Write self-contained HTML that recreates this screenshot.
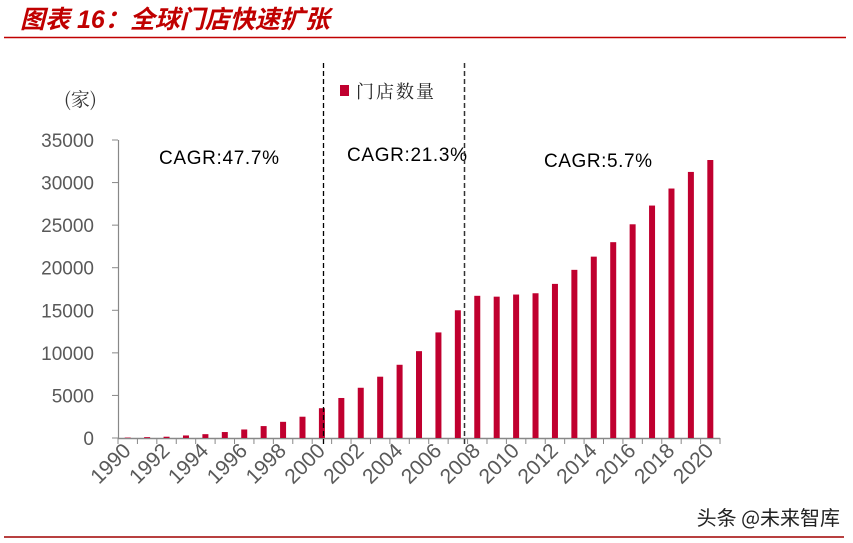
<!DOCTYPE html>
<html><head><meta charset="utf-8"><style>
html,body{margin:0;padding:0;background:#fff;}
svg{display:block;}
</style></head><body>
<svg id="s" width="853" height="543" viewBox="0 0 853 543" xmlns="http://www.w3.org/2000/svg" font-family="'Liberation Sans','Noto Sans CJK SC',sans-serif">
<text x="20" y="28" font-size="25" font-weight="bold" font-style="italic" fill="#c00000" font-family="'Liberation Sans','Noto Sans CJK SC',sans-serif">图表 16：全球门店快速扩张</text>
<line x1="4" y1="37.5" x2="846" y2="37.5" stroke="#c00000" stroke-width="1.5"/>
<line x1="4" y1="537" x2="844" y2="537" stroke="#a00000" stroke-width="1.5"/>
<text x="840" y="525" font-size="20" text-anchor="end" fill="#222" font-family="'Noto Sans CJK SC',sans-serif">头条 @未来智库</text>
<text x="64" y="106" font-size="19" fill="#333" font-family="'Noto Serif CJK SC',serif">(家)</text>
<rect x="340" y="85" width="9" height="11" fill="#c0002f"/>
<text x="356" y="98" font-size="18" fill="#222" font-family="'Noto Serif CJK SC',serif" letter-spacing="2">门店数量</text>
<text x="159" y="164" font-size="19" fill="#000" textLength="120">CAGR:47.7%</text>
<text x="347" y="161" font-size="19" fill="#000" textLength="120">CAGR:21.3%</text>
<text x="544" y="167" font-size="19" fill="#000" textLength="108">CAGR:5.7%</text>
<line x1="118.5" y1="140" x2="118.5" y2="438" stroke="#888" stroke-width="1.2"/>
<line x1="118" y1="438.5" x2="720" y2="438.5" stroke="#888" stroke-width="1.5"/>
<g id="g"></g>
<line x1="323.5" y1="63" x2="323.5" y2="446" stroke="#000" stroke-width="1.3" stroke-dasharray="5,3"/>
<line x1="464.5" y1="63" x2="464.5" y2="446" stroke="#333" stroke-width="1.5" stroke-dasharray="5,3"/>
</svg>
<script>
var g=document.getElementById('g'),h='';
var v=[50,100,150,300,450,700,1000,1400,1900,2500,3500,4700,5900,7200,8600,10200,12400,15000,16700,16600,16850,17000,18100,19750,21300,23000,25100,27300,29300,31250,32650];
var k=298/35000,w=19.42;
for(var i=0;i<=7;i++){var y=438-i*5000*k;h+='<line x1="112" y1="'+y+'" x2="118" y2="'+y+'" stroke="#888"/>';
h+='<text x="94" y="'+(y+7)+'" font-size="19" fill="#595959" text-anchor="end">'+(i*5000)+'</text>';}
for(var i=0;i<31;i++){var c=118+(i+0.5)*w,hh=v[i]*k;
h+='<rect x="'+(c-3)+'" y="'+(438-hh)+'" width="6" height="'+hh+'" fill="#c0002f"/>';}
for(var i=0;i<=31;i++){var x=118+i*w;h+='<line x1="'+x+'" y1="438" x2="'+x+'" y2="444" stroke="#888"/>';}
for(var i=0;i<31;i+=2){var x=118+i*w+14;h+='<text transform="translate('+x+',452) rotate(-45)" font-size="21" fill="#595959" text-anchor="end">'+(1990+i)+'</text>';}
g.innerHTML=h;
</script>
</body></html>
